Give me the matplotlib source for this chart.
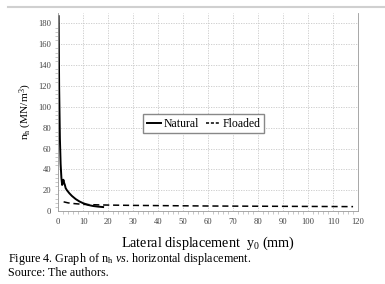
import numpy as np
import matplotlib

matplotlib.use("Agg")
import matplotlib.pyplot as plt
from matplotlib.lines import Line2D

plt.rcParams["font.family"] = ["Liberation Serif", "DejaVu Serif"]
plt.rcParams["mathtext.fontset"] = "custom"
plt.rcParams["mathtext.rm"] = "Liberation Serif"
plt.rcParams["mathtext.it"] = "Liberation Serif:italic"

# Natural curve (y0 in mm, nh in MN/m3)
nat_x = [0.2, 0.4, 0.7, 1.0, 1.3, 1.6, 1.9, 2.1, 2.4, 2.7, 3.0, 3.5, 4.5, 5.5, 7.0, 8.5, 10.0, 12.0, 14.0, 16.0, 18.0]
nat_y = [187, 120, 70, 45, 32, 25, 27, 30, 27, 25, 22, 20, 17, 14.5, 11.5, 9.2, 7.5, 5.8, 4.8, 4.2, 3.8]

# Floaded curve
fl_x = [2.2, 4, 6, 8, 10, 13, 16, 20, 30, 40, 50, 60, 70, 80, 90, 100, 110, 118]
fl_y = [8.8, 7.8, 7.2, 6.8, 6.4, 6.1, 5.9, 5.7, 5.4, 5.2, 5.0, 4.8, 4.7, 4.6, 4.5, 4.4, 4.3, 4.2]

fig = plt.figure(figsize=(3.85, 2.84), dpi=100)
ax = fig.add_axes([0.151, 0.257, 0.779, 0.697])

ax.plot(nat_x, nat_y, color="black", lw=1.4, label="Natural")
ax.plot(fl_x, fl_y, color="black", lw=1.1, ls=(0, (4, 2.5)), label="Floaded")

ax.set_xlim(0, 120)
ax.set_ylim(0, 190)
ax.set_xticks(np.arange(0, 121, 10))
ax.set_yticks(np.arange(0, 181, 20))
ax.set_xticks(np.arange(0, 121, 2), minor=True)
ax.set_yticks(np.arange(0, 181, 4), minor=True)
ax.grid(True, which="major", color="#c8c8c8", ls=(0, (1.5, 1.5)), lw=0.6)
ax.tick_params(which="major", labelsize=6.2, colors="#444444", length=0)
ax.tick_params(which="minor", direction="out", length=2.5, width=0.5, color="#b0b0b0")
ax.tick_params(axis="x", which="major", pad=5)
ax.tick_params(axis="y", which="major", pad=5)
ax.spines["top"].set_visible(False)
for s in ["left", "bottom", "right"]:
    ax.spines[s].set_color("#999999")
    ax.spines[s].set_linewidth(0.6)

ax.set_ylabel(r"n$_\mathregular{h}$ (MN/m$^\mathregular{3}$)", fontsize=8.2, labelpad=3)
ax.set_xlabel(r"Lateral displacement  y$_\mathregular{0}$ (mm)", fontsize=10.2, labelpad=6)

handles = [Line2D([], [], color="black", lw=1.4),
           Line2D([], [], color="black", lw=1.1, ls=(0, (2, 1.2)))]
ax.legend(handles, ["Natural", "Floaded"], loc="center", bbox_to_anchor=(0.485, 0.44),
          ncol=2, fontsize=8.5, frameon=True, fancybox=False, edgecolor="#888888",
          handlelength=1.2, handletextpad=0.2, columnspacing=0.6, borderpad=0.3,
          framealpha=1)

fig.add_artist(Line2D([8 / 385, 1], [1 - 7 / 284, 1 - 7 / 284], color="#d0d0d0", lw=1.5))
fig.text(8 / 385, 1 - 259 / 284, r"Figure 4. Graph of n$_\mathregular{h}$ $\mathit{vs}$. horizontal displacement.",
         fontsize=8.7, va="center")
fig.text(8 / 385, 1 - 273 / 284, "Source: The authors.", fontsize=8.7, va="center")

fig.savefig("out.png", dpi=100)
